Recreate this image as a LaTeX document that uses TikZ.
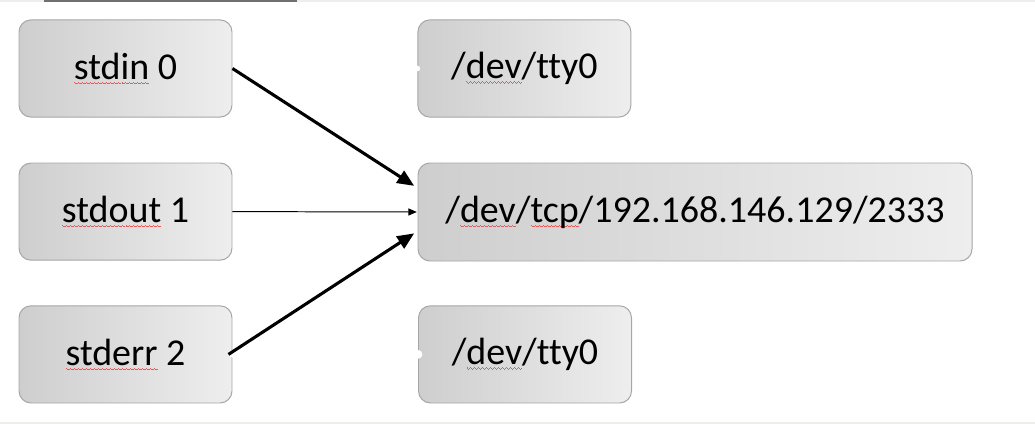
\documentclass[tikz,border=0pt]{standalone}
\usepackage{fontspec}
\setmainfont{Carlito}[Ligatures=NoCommon]
\usepackage{tikz}
\usetikzlibrary{arrows.meta, positioning}
\definecolor{CajaIzq}{RGB}{206, 206, 206}
\definecolor{CajaDer}{RGB}{238, 238, 238}
\definecolor{Borde}{RGB}{166, 166, 166}
\definecolor{Onda}{RGB}{230, 90, 90}
\definecolor{FranjaClara}{RGB}{238, 238, 234}
\definecolor{FranjaOscura}{RGB}{110, 112, 116}
% subrayado ondulado del corrector (hecho con reglas)
\newsavebox\ondacaja
\newcommand\tramo{\hbox{\rule[-2.5pt]{0.7pt}{0.55pt}\rule[-3.0pt]{0.7pt}{0.55pt}\rule[-3.5pt]{0.7pt}{0.55pt}\rule[-3.0pt]{0.7pt}{0.55pt}}}
\newcommand\ondulado[1]{\sbox\ondacaja{#1}\rlap{\hbox to\wd\ondacaja{\color{Onda}\xleaders\tramo\hfil}}\usebox\ondacaja}

\begin{document}
\begin{tikzpicture}[
        caja/.style={rectangle, rounded corners=0.3cm, draw=Borde, line width=0.7pt, left color=CajaIzq, right color=CajaDer, minimum width=5.325cm, minimum height=2.43cm, align=center, font=\fontsize{27}{32}\selectfont},
        destino/.style={caja, minimum width=13.85cm, minimum height=2.45cm},
        gruesa/.style={line width=2.2pt, draw=black, -{Triangle[length=12pt, width=10pt]}, shorten >=2.8pt},
        fina/.style={line width=0.7pt, draw=black, -{Triangle[length=6pt, width=5pt]}, shorten >=0.5pt}
    ]%
        % ================= MARCO =================
        \useasboundingbox (0, 0) rectangle (25.875, -10.6);
        \fill[FranjaClara] (0, 0) rectangle (25.875, -0.05);
        \fill[FranjaOscura] (1.1, 0) rectangle (7.43, -0.05);
        \fill[FranjaClara] (0, -10.56) rectangle (25.875, -10.6);
        % ================= DESCRIPTORES (IZQUIERDA) =================
        \node[caja] (stdin) at (3.1375, -1.7125) {\ondulado{stdin} 0};
        \node[caja] (stdout) at (3.1375, -5.29) {\ondulado{stdout} 1};
        \node[caja] (stderr) at (3.1375, -8.86) {\ondulado{stderr} 2};
        % ================= DISPOSITIVOS (DERECHA) =================
        \node[caja] (tty_a) at (13.11, -1.7125) {/\ondulado{dev}/tty0};
        \node[destino] (tcp) at (17.375, -5.3) {/\ondulado{dev}/\ondulado{tcp}/192.168.146.129/2333};
        \node[caja] (tty_b) at (13.125, -8.86) {/\ondulado{dev}/tty0};
        % muescas blancas de los conectores antiguos
        \fill[white] (tty_a.west) circle (0.07);
        \fill[white] (tty_b.west) circle (0.11);
        \fill[white] (stderr.east) circle (0.08);
        % ================= REDIRECCIONES =================
        \draw[gruesa] (stdin.east) -- ([yshift=0.6cm]tcp.west);
        \draw[fina] (stdout.east) -- (tcp.west);
        \draw[gruesa] ([xshift=-0.1cm]stderr.east) -- ([yshift=-0.48cm]tcp.west);
    \end{tikzpicture}
\end{document}
